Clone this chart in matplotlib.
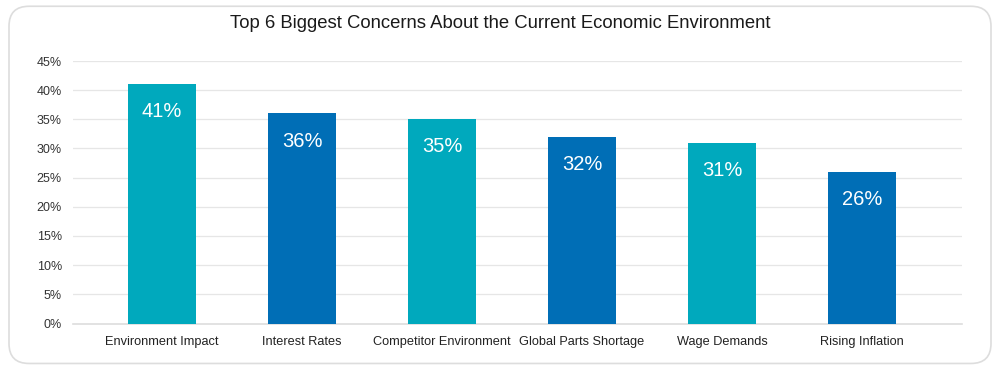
import matplotlib
matplotlib.use("Agg")
import matplotlib.pyplot as plt
from matplotlib.patches import FancyBboxPatch

categories = ["Environment Impact", "Interest Rates", "Competitor Environment",
              "Global Parts Shortage", "Wage Demands", "Rising Inflation"]
values = [41, 36, 35, 32, 31, 26]
colors = ["#00A9BD", "#006EB6", "#00A9BD", "#006EB6", "#00A9BD", "#006EB6"]
yticks = [0, 5, 10, 15, 20, 25, 30, 35, 40, 45]

plt.rcParams['font.family'] = ['Liberation Sans', 'DejaVu Sans']

fig = plt.figure(figsize=(10, 3.69), dpi=100)

# rounded card border, behind the axes
card = FancyBboxPatch((0.009, 0.015), 0.982, 0.968, boxstyle="round,pad=0,rounding_size=0.02",
                      transform=fig.transFigure, facecolor="white", edgecolor="#dddddd",
                      linewidth=1.2, mutation_aspect=2.7, zorder=-10)
fig.patches.append(card)

ax = fig.add_axes([0.073, 1 - 323.5 / 369, 0.889, (323.5 - 61) / 369])
ax.set_facecolor("none")
ax.set_zorder(5)

x = list(range(len(categories)))
bars = ax.bar(x, values, width=0.49, color=colors, zorder=3)

for b, v in zip(bars, values):
    ax.text(b.get_x() + b.get_width() / 2, v - 3.1, f"{v}%", ha="center", va="top",
            color="white", fontsize=14.5, zorder=4)

ax.set_xlim(-0.636, 5.714)
ax.set_ylim(0, 45)
ax.set_yticks(yticks)
ax.set_yticklabels([f"{t}%" for t in yticks], fontsize=9, color="#333333")
ax.set_xticks(x)
ax.set_xticklabels(categories, fontsize=9.2, color="#222222")
ax.tick_params(axis="both", length=0)
ax.tick_params(axis="y", pad=8)
ax.tick_params(axis="x", pad=9)
ax.grid(axis="y", color="#e6e6e6", linewidth=0.9, zorder=0)
ax.set_axisbelow(True)
for s in ["top", "right", "left"]:
    ax.spines[s].set_visible(False)
ax.spines["bottom"].set_color("#dddddd")
ax.spines["bottom"].set_linewidth(1.2)

fig.text(0.5, 1 - 24 / 369, "Top 6 Biggest Concerns About the Current Economic Environment",
         ha="center", va="center", fontsize=13.3, color="#1a1a1a")

fig.savefig("out.png", dpi=100)
